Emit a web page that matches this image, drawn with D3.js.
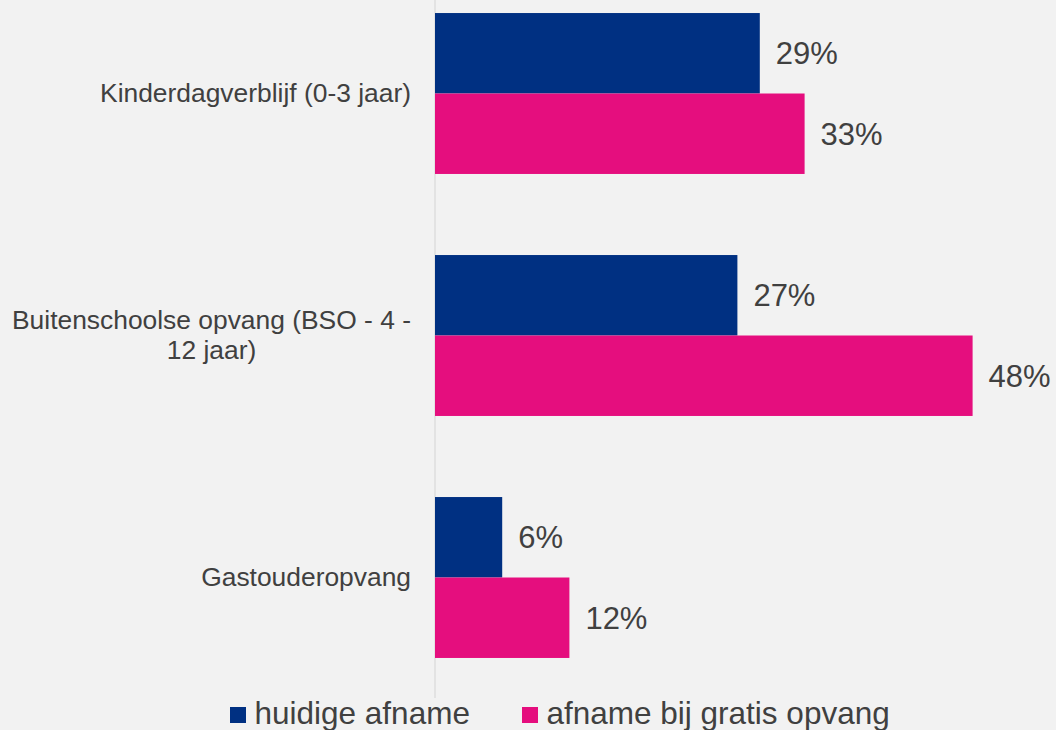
<!DOCTYPE html>
<html>
<head>
<meta charset="utf-8">
<script src="https://cdn.jsdelivr.net/npm/d3@7/dist/d3.min.js"></script>
<style>
  html, body { margin: 0; padding: 0; background: #f2f2f2; }
  svg { display: block; }
  text { font-family: "Liberation Sans", Arial, sans-serif; fill: #404040; }
</style>
</head>
<body>
<svg id="chart" width="1056" height="730"></svg>
<script>
const categories = ["Kinderdagverblijf (0-3 jaar)", "Buitenschoolse opvang (BSO - 4 - 12 jaar)", "Gastouderopvang"];
const seriesNames = ["huidige afname", "afname bij gratis opvang"];
const huidigeAfname = [29, 27, 6];
const afnameGratis = [33, 48, 12];
const seriesColors = ["#003082", "#e50e7e"];

const seriesValues = [huidigeAfname, afnameGratis];
const data = categories.map((c, i) => ({
  cat: c,
  vals: seriesNames.map((s, j) => ({ series: s, value: seriesValues[j][i], color: seriesColors[j] }))
}));

const W = 1056, H = 730;
const svg = d3.select("#chart");
svg.append("rect").attr("width", W).attr("height", H).attr("fill", "#f2f2f2");

const x0 = 435;
const x = d3.scaleLinear().domain([0, 50]).range([x0, x0 + 560]);
const y = d3.scaleBand().domain(categories).range([-27.5, 698.5]).paddingInner(0.335).paddingOuter(0.1675);
const ySub = d3.scaleBand().domain(seriesNames).range([0, y.bandwidth()]);

// axis line
svg.append("line").attr("x1", x0).attr("x2", x0).attr("y1", 0).attr("y2", 698)
  .attr("stroke", "#dedede").attr("stroke-width", 1.5);

const groups = svg.selectAll("g.grp").data(data).join("g")
  .attr("class", "grp")
  .attr("transform", d => `translate(0,${y(d.cat)})`);

groups.selectAll("rect").data(d => d.vals).join("rect")
  .attr("x", x(0))
  .attr("y", d => ySub(d.series))
  .attr("width", d => x(d.value) - x(0))
  .attr("height", ySub.bandwidth())
  .attr("fill", d => d.color);

groups.selectAll("text.val").data(d => d.vals).join("text")
  .attr("class", "val")
  .attr("x", d => x(d.value) + 16)
  .attr("y", d => ySub(d.series) + ySub.bandwidth() / 2 + 11)
  .attr("font-size", 31)
  .text(d => d.value + "%");

// category labels with wrapping
const labelRight = 411, wrapWidth = 408, lineH = 29.5, catFont = 26.4;
categories.forEach(c => {
  const words = c.split(" ");
  const tmp = svg.append("text").attr("font-size", catFont);
  const lines = [];
  let cur = [];
  words.forEach(w => {
    const test = cur.concat([w]).join(" ");
    tmp.text(test);
    if (tmp.node().getComputedTextLength() > wrapWidth && cur.length) {
      lines.push(cur.join(" "));
      cur = [w];
    } else {
      cur.push(w);
    }
  });
  if (cur.length) lines.push(cur.join(" "));
  const widths = lines.map(l => { tmp.text(l); return tmp.node().getComputedTextLength(); });
  tmp.remove();
  const blockW = d3.max(widths);
  const cx = labelRight - blockW / 2;
  const cy = y(c) + y.bandwidth() / 2;
  const firstBase = cy + 8.5 - (lines.length - 1) * lineH / 2;
  const t = svg.append("text").attr("font-size", catFont).attr("text-anchor", "middle");
  lines.forEach((l, i) => {
    t.append("tspan").attr("x", cx).attr("y", firstBase + i * lineH).text(l);
  });
});

// legend
const legendItems = [
  { name: seriesNames[0], color: seriesColors[0], x: 230 },
  { name: seriesNames[1], color: seriesColors[1], x: 522 }
];
const lg = svg.selectAll("g.leg").data(legendItems).join("g").attr("class", "leg");
lg.append("rect").attr("x", d => d.x).attr("y", 707).attr("width", 16).attr("height", 16).attr("fill", d => d.color);
lg.append("text").attr("x", d => d.x + 24.5).attr("y", 724).attr("font-size", 31.5).text(d => d.name);
</script>
</body>
</html>
